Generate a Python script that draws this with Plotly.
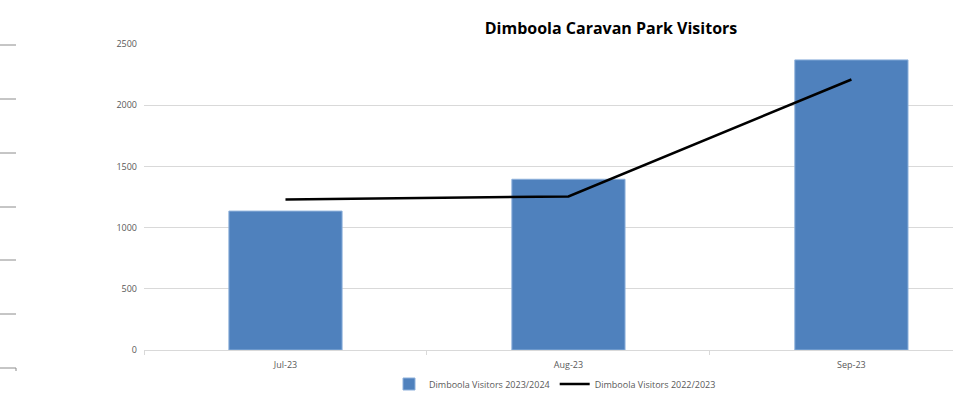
import plotly.graph_objects as go

# Monthly visitor counts
months = ["Jul-23", "Aug-23", "Sep-23"]
visitors_2023_24 = [1135, 1395, 2370]
visitors_2022_23 = [1230, 1255, 2210]

fig = go.Figure()

fig.add_trace(go.Bar(
    x=months,
    y=visitors_2023_24,
    name="Dimboola Visitors 2023/2024",
    marker=dict(color="#4F81BD", line=dict(color="#8DB0DB", width=1)),
    width=0.4,
))

fig.add_trace(go.Scatter(
    x=months,
    y=visitors_2022_23,
    name="Dimboola Visitors 2022/2023",
    mode="lines",
    line=dict(color="#000000", width=2.5),
))

# Faint tick marks of a neighbouring chart along the left edge
left_marks = []
for yp in [45, 99, 153, 207, 260, 314, 368]:
    left_marks.append(dict(
        type="line", xref="paper", yref="paper",
        x0=-144 / 809, x1=-128 / 809,
        y0=(350 - yp) / 306, y1=(350 - yp) / 306,
        line=dict(color="#8C8C8C", width=1),
    ))
left_marks.append(dict(
    type="line", xref="paper", yref="paper",
    x0=-128 / 809, x1=-128 / 809,
    y0=(350 - 368) / 306, y1=(350 - 371) / 306,
    line=dict(color="#8C8C8C", width=1),
))

fig.update_layout(
    width=953,
    height=394,
    margin=dict(l=144, r=0, t=44, b=44, autoexpand=False),
    paper_bgcolor="white",
    plot_bgcolor="white",
    font=dict(family="Open Sans, sans-serif", color="#595959", size=9),
    title=dict(
        text="<b>Dimboola Caravan Park Visitors</b>",
        x=611 / 953, xanchor="center",
        y=1 - 28 / 394, yanchor="middle",
        font=dict(family="Open Sans, sans-serif", size=16, color="#000000"),
    ),
    showlegend=True,
    legend=dict(
        orientation="h",
        x=(555 - 144) / 809, xanchor="center",
        y=(350 - 384) / 306, yanchor="middle",
        bgcolor="rgba(0,0,0,0)",
        font=dict(size=9, color="#595959"),
        itemwidth=30,
        tracegroupgap=0,
    ),
    bargap=0.6,
    shapes=left_marks,
)

fig.update_xaxes(
    type="category",
    range=[-0.5, 2.359],
    showgrid=False,
    showline=True,
    linecolor="#D9D9D9",
    linewidth=1,
    ticks="outside",
    tickson="boundaries",
    ticklen=4,
    tickcolor="#D9D9D9",
    ticklabelstandoff=6,
    tickfont=dict(size=9, color="#595959"),
)

fig.update_yaxes(
    range=[0, 2500],
    tickvals=[0, 500, 1000, 1500, 2000, 2500],
    showgrid=True,
    gridcolor="#D9D9D9",
    gridwidth=1,
    zeroline=False,
    showline=False,
    ticks="",
    ticklabelstandoff=6,
    tickfont=dict(size=9, color="#595959"),
)

fig.write_html("out.html")
